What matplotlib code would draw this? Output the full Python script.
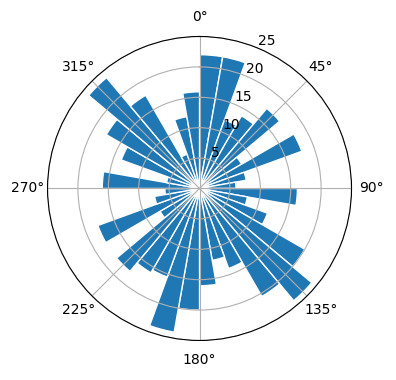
import matplotlib
matplotlib.use('Agg')
import matplotlib.pyplot as plt
import numpy as np

# direction bins (degrees, bin start) and counts per bin
bin_start = np.arange(0, 360, 10)
counts = [22, 22, 12, 13.8, 17.2, 8, 17.9, 7.8, 6,
          16.1, 8, 11.9, 20, 24.1, 20.5, 14, 12, 16,
          20, 24, 15.5, 16, 17.8, 7.5, 17.8, 7.5, 5.7,
          16, 5.5, 13.7, 17.7, 23.8, 17.7, 6, 12, 15.9]

fig = plt.figure(figsize=(3.96, 3.8), dpi=100)
ax = fig.add_axes([0.12, 0.104, 0.7677, 0.8], projection='polar')

ax.set_theta_zero_location('N')
ax.set_theta_direction(-1)

width = np.deg2rad(10)
ax.bar(np.deg2rad(bin_start), counts, width=width, align='edge',
       color='C0', edgecolor='white', linewidth=1)

ax.set_ylim(0, 25)
ax.set_yticks([5, 10, 15, 20, 25])

fig.savefig('out.png', dpi=100)
